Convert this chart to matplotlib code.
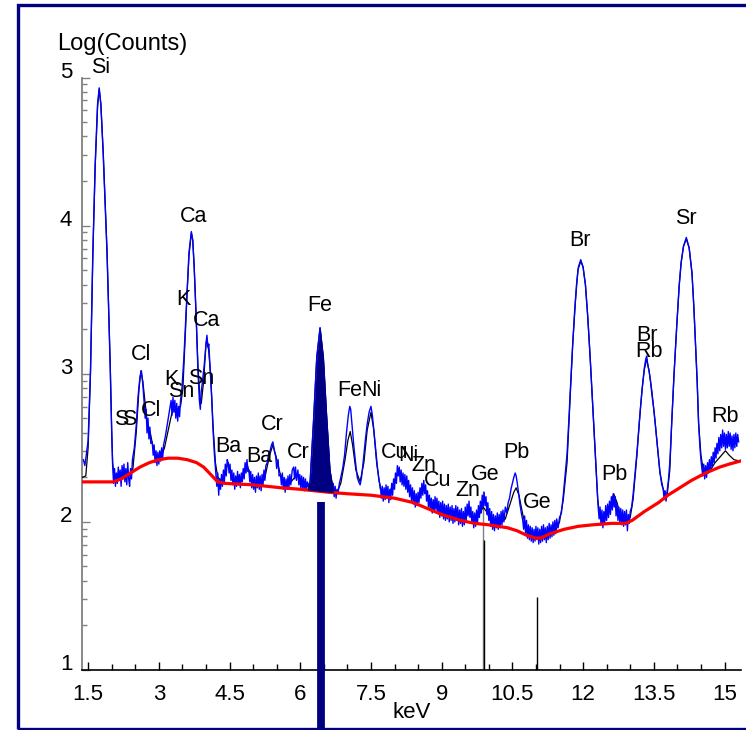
import numpy as np
import matplotlib
matplotlib.use("Agg")
import matplotlib.pyplot as plt
from matplotlib.ticker import MultipleLocator, LogLocator, FuncFormatter, NullFormatter
from matplotlib.patches import Rectangle

plt.rcParams['font.family'] = ['Liberation Sans', 'DejaVu Sans']

# ---------------- data (log10 counts vs keV) ----------------
bg_kev = [1.37, 2.03, 2.2, 2.4, 2.6, 2.8, 3.0, 3.2, 3.4, 3.6, 3.8, 3.95, 4.1, 4.25, 4.4, 4.7,
          5.0, 5.3, 5.6, 6.0, 6.6, 7.0, 7.5, 8.0, 8.4, 8.7, 9.0, 9.2, 9.4, 9.7, 10.0, 10.4,
          10.6, 10.8, 11.0, 11.1, 11.3, 11.6, 11.9, 12.2, 12.6, 12.9, 13.04, 13.3, 13.6, 13.8,
          14.0, 14.3, 14.6, 14.9, 15.1, 15.33]
bg_log = [2.27, 2.27, 2.29, 2.33, 2.37, 2.40, 2.42, 2.43, 2.43, 2.42, 2.40, 2.37, 2.32, 2.27, 2.26, 2.255,
          2.25, 2.24, 2.23, 2.22, 2.20, 2.19, 2.18, 2.16, 2.13, 2.09, 2.05, 2.03, 2.01, 1.99, 1.98, 1.96,
          1.94, 1.91, 1.89, 1.89, 1.92, 1.95, 1.97, 1.98, 1.99, 1.99, 2.01, 2.07, 2.13, 2.18,
          2.22, 2.28, 2.33, 2.37, 2.39, 2.41]

fit_kev = [1.37, 1.45, 1.50, 1.55, 1.60, 1.65, 1.70, 1.735, 1.77, 1.82, 1.86, 1.90, 1.94, 1.97, 2.00, 2.02,
           2.05, 2.15, 2.25, 2.31, 2.36, 2.45, 2.52, 2.58, 2.62, 2.66, 2.71, 2.76, 2.82, 2.88, 2.95, 3.03,
           3.12, 3.20, 3.28, 3.33, 3.40, 3.46, 3.51, 3.56, 3.60, 3.64, 3.69, 3.72, 3.75, 3.79, 3.83, 3.87,
           3.90, 3.95, 4.00, 4.02, 4.06, 4.10, 4.15, 4.20, 4.25, 4.33, 4.40, 4.47, 4.55, 4.65, 4.75, 4.83,
           4.88, 4.95, 5.05, 5.15, 5.25, 5.35, 5.42, 5.48, 5.57, 5.66, 5.78, 5.88, 5.95, 6.05, 6.15, 6.21,
           6.28, 6.35, 6.42, 6.49, 6.56, 6.63, 6.70, 6.78, 6.86, 6.95, 7.01, 7.06, 7.11, 7.18, 7.27, 7.35,
           7.42, 7.50, 7.56, 7.62, 7.70, 7.80, 7.90, 8.00, 8.08, 8.16, 8.26, 8.35, 8.47, 8.55, 8.63, 8.70,
           8.78, 8.90, 9.00, 9.15, 9.30, 9.45, 9.57, 9.65, 9.75, 9.88, 9.95, 10.05, 10.20, 10.35, 10.45, 10.53,
           10.58, 10.64, 10.72, 10.80, 10.90, 11.00, 11.10, 11.20, 11.30, 11.40, 11.50, 11.58, 11.66, 11.72, 11.78, 11.84,
           11.89, 11.95, 12.00, 12.05, 12.10, 12.15, 12.21, 12.26, 12.31, 12.36, 12.45, 12.55, 12.65, 12.72, 12.80, 12.90,
           13.00, 13.06, 13.14, 13.20, 13.25, 13.30, 13.35, 13.40, 13.46, 13.53, 13.58, 13.63, 13.70, 13.78, 13.84, 13.88,
           13.93, 13.99, 14.04, 14.08, 14.13, 14.19, 14.25, 14.31, 14.35, 14.38, 14.42, 14.45, 14.50, 14.55, 14.63, 14.72,
           14.80, 14.91, 15.02, 15.10, 15.20, 15.33]
fit_log = [2.30, 2.31, 2.50, 3.00, 3.80, 4.40, 4.80, 4.92, 4.82, 4.50, 4.17, 3.84, 3.40, 3.05, 2.62, 2.40,
           2.31, 2.30, 2.31, 2.33, 2.31, 2.36, 2.60, 2.90, 3.02, 2.95, 2.80, 2.65, 2.60, 2.50, 2.44, 2.42,
           2.50, 2.62, 2.74, 2.78, 2.76, 2.78, 2.90, 3.25, 3.55, 3.80, 3.95, 3.90, 3.72, 3.40, 3.05, 2.85,
           2.80, 2.95, 3.20, 3.24, 3.15, 2.98, 2.65, 2.40, 2.30, 2.28, 2.33, 2.40, 2.30, 2.27, 2.30, 2.36,
           2.38, 2.30, 2.26, 2.25, 2.30, 2.45, 2.52, 2.45, 2.33, 2.25, 2.26, 2.30, 2.32, 2.27, 2.24, 2.27,
           2.67, 3.11, 3.31, 3.11, 2.71, 2.35, 2.22, 2.20, 2.26, 2.42, 2.55, 2.61, 2.52, 2.35, 2.27, 2.40,
           2.62, 2.74, 2.62, 2.40, 2.22, 2.19, 2.20, 2.28, 2.34, 2.30, 2.28, 2.20, 2.15, 2.18, 2.24, 2.18,
           2.12, 2.10, 2.08, 2.05, 2.04, 2.02, 2.06, 2.03, 2.02, 2.10, 2.07, 2.00, 1.98, 2.02, 2.12, 2.20,
           2.23, 2.18, 2.05, 1.95, 1.91, 1.90, 1.89, 1.90, 1.91, 1.93, 2.00, 2.15, 2.40, 2.80, 3.20, 3.50,
           3.70, 3.76, 3.72, 3.60, 3.38, 3.11, 2.75, 2.44, 2.15, 2.03, 2.01, 2.08, 2.19, 2.13, 2.03, 2.00,
           2.03, 2.15, 2.44, 2.70, 2.89, 3.03, 3.10, 3.02, 2.88, 2.67, 2.50, 2.33, 2.22, 2.17, 2.35, 2.67,
           3.00, 3.34, 3.60, 3.75, 3.86, 3.91, 3.85, 3.68, 3.45, 3.23, 2.95, 2.67, 2.45, 2.35, 2.33, 2.36,
           2.40, 2.44, 2.48, 2.45, 2.42, 2.41]

spec_kev = [1.40, 1.43, 1.46, 1.50, 1.55, 1.60, 1.65, 1.70, 1.735, 1.77, 1.82, 1.86, 1.90, 1.94, 1.97, 2.00, 2.02,
            2.04, 2.06, 2.08, 2.10, 2.12, 2.14, 2.16, 2.18, 2.20, 2.22, 2.24, 2.26, 2.28, 2.30, 2.32, 2.34, 2.36, 2.38, 2.40, 2.42, 2.44,
            2.48, 2.52, 2.56, 2.60, 2.63, 2.66, 2.69, 2.71, 2.73, 2.75, 2.77, 2.79, 2.81, 2.83, 2.86, 2.88, 2.90, 2.92, 2.94, 2.96, 2.98, 3.00, 3.02, 3.04, 3.06, 3.08, 3.10,
            3.14, 3.18, 3.22, 3.26, 3.28, 3.30, 3.32, 3.34, 3.36, 3.38, 3.40, 3.42, 3.44, 3.46, 3.49, 3.53, 3.56, 3.60, 3.64, 3.69, 3.72, 3.75, 3.79, 3.83, 3.86, 3.88,
            3.90, 3.93, 3.96, 3.98, 4.00, 4.02, 4.04, 4.06, 4.09, 4.12, 4.15, 4.18, 4.21, 4.23, 4.25, 4.27, 4.29, 4.31, 4.33, 4.35, 4.37, 4.39, 4.41, 4.43, 4.45, 4.47,
            4.49, 4.51, 4.53, 4.55, 4.57, 4.59, 4.61, 4.63, 4.65, 4.67, 4.69, 4.71, 4.73, 4.75, 4.77, 4.79, 4.81, 4.83, 4.85, 4.87, 4.89, 4.91, 4.93, 4.95, 4.97, 4.99,
            5.01, 5.03, 5.05, 5.07, 5.09, 5.11, 5.13, 5.15, 5.17, 5.19, 5.21, 5.23, 5.25, 5.27, 5.30, 5.33, 5.36, 5.39, 5.42, 5.45, 5.48, 5.50, 5.53, 5.55, 5.58, 5.60,
            5.62, 5.64, 5.66, 5.68, 5.70, 5.72, 5.74, 5.76, 5.78, 5.80, 5.83, 5.86, 5.88, 5.90, 5.92, 5.95, 5.97, 5.99, 6.01, 6.03, 6.05, 6.07, 6.09, 6.11, 6.13, 6.15,
            6.18, 6.21, 6.28, 6.35, 6.42, 6.49, 6.56, 6.63, 6.66, 6.68, 6.70, 6.72, 6.74, 6.76, 6.78, 6.80, 6.83, 6.86, 6.90, 6.94, 6.98, 7.02, 7.05, 7.07, 7.10, 7.14,
            7.18, 7.21, 7.24, 7.27, 7.30, 7.34, 7.38, 7.42, 7.46, 7.50, 7.53, 7.56, 7.60, 7.64, 7.67, 7.70, 7.72, 7.74, 7.76, 7.78, 7.80, 7.82, 7.84, 7.86, 7.88, 7.90,
            7.92, 7.94, 7.96, 7.98, 8.00, 8.02, 8.04, 8.06, 8.08, 8.10, 8.12, 8.14, 8.16, 8.18, 8.20, 8.22, 8.24, 8.26, 8.28, 8.30, 8.32, 8.34, 8.36, 8.38, 8.40, 8.42,
            8.44, 8.46, 8.48, 8.50, 8.52, 8.54, 8.56, 8.58, 8.60, 8.62, 8.64, 8.66, 8.68, 8.70, 8.72, 8.74, 8.76, 8.78, 8.80, 8.82, 8.84, 8.86, 8.88, 8.90, 8.92, 8.94,
            8.96, 8.98, 9.00, 9.02, 9.04, 9.06, 9.08, 9.10, 9.12, 9.14, 9.16, 9.18, 9.20, 9.22, 9.24, 9.26, 9.28, 9.30, 9.32, 9.34, 9.36, 9.38, 9.40, 9.42, 9.44, 9.46,
            9.48, 9.50, 9.52, 9.54, 9.56, 9.58, 9.60, 9.62, 9.64, 9.66, 9.68, 9.70, 9.72, 9.74, 9.76, 9.78, 9.80, 9.82, 9.84, 9.86, 9.88, 9.90, 9.92, 9.94, 9.96, 9.98,
            10.00, 10.02, 10.04, 10.06, 10.08, 10.10, 10.12, 10.14, 10.16, 10.18, 10.20, 10.22, 10.24, 10.26, 10.28, 10.30, 10.32, 10.35, 10.38, 10.41, 10.44, 10.47,
            10.50, 10.53, 10.56, 10.58, 10.60, 10.63, 10.66, 10.69, 10.72, 10.74, 10.76, 10.78, 10.80, 10.82, 10.84, 10.86, 10.88, 10.90, 10.92, 10.94, 10.96, 10.98,
            11.00, 11.02, 11.04, 11.06, 11.08, 11.10, 11.12, 11.14, 11.16, 11.18, 11.20, 11.22, 11.24, 11.26, 11.28, 11.30, 11.32, 11.34, 11.36, 11.38, 11.40, 11.42,
            11.44, 11.47, 11.50, 11.54, 11.58, 11.62, 11.66, 11.70, 11.74, 11.78, 11.82, 11.86, 11.90, 11.95, 12.00, 12.05, 12.10, 12.15, 12.21, 12.26, 12.30, 12.32,
            12.34, 12.36, 12.38, 12.40, 12.42, 12.44, 12.46, 12.48, 12.50, 12.52, 12.54, 12.56, 12.58, 12.60, 12.62, 12.64, 12.66, 12.68, 12.70, 12.72, 12.74, 12.76,
            12.78, 12.80, 12.82, 12.84, 12.86, 12.88, 12.90, 12.92, 12.94, 12.96, 12.98, 13.00, 13.03, 13.06, 13.10, 13.14, 13.18, 13.22, 13.26, 13.30, 13.33, 13.35,
            13.37, 13.40, 13.43, 13.46, 13.50, 13.53, 13.58, 13.63, 13.67, 13.70, 13.72, 13.74, 13.76, 13.78, 13.81, 13.84, 13.88, 13.93, 13.99, 14.04, 14.08, 14.13,
            14.19, 14.25, 14.31, 14.35, 14.38, 14.42, 14.45, 14.48, 14.50, 14.52, 14.54, 14.56, 14.58, 14.60, 14.62, 14.64, 14.66, 14.68, 14.70, 14.72, 14.74, 14.76,
            14.78, 14.80, 14.82, 14.84, 14.86, 14.88, 14.90, 14.92, 14.94, 14.96, 14.98, 15.00, 15.02, 15.04, 15.06, 15.08, 15.10, 15.12, 15.14, 15.16, 15.18, 15.20,
            15.22, 15.24, 15.26, 15.28, 15.30]
spec_log = [2.42, 2.38, 2.45, 2.55, 3.02, 3.82, 4.42, 4.82, 4.93, 4.82, 4.48, 4.15, 3.82, 3.38, 3.02, 2.60, 2.38,
            2.26, 2.36, 2.24, 2.33, 2.26, 2.37, 2.28, 2.35, 2.24, 2.38, 2.29, 2.39, 2.27, 2.36, 2.25, 2.40, 2.29, 2.24, 2.36, 2.29, 2.42,
            2.50, 2.65, 2.85, 2.98, 3.02, 2.93, 2.80, 2.70, 2.76, 2.60, 2.70, 2.56, 2.64, 2.53, 2.54, 2.45, 2.52, 2.40, 2.48, 2.38, 2.47, 2.39, 2.48, 2.41, 2.50, 2.42, 2.52,
            2.58, 2.66, 2.74, 2.82, 2.72, 2.84, 2.74, 2.82, 2.70, 2.80, 2.68, 2.78, 2.71, 2.82, 2.90, 3.10, 3.30, 3.58, 3.82, 3.96, 3.90, 3.72, 3.40, 3.02, 2.82, 2.76,
            2.88, 2.96, 3.05, 3.12, 3.20, 3.26, 3.18, 3.20, 3.02, 2.85, 2.62, 2.45, 2.32, 2.24, 2.33, 2.18, 2.29, 2.22, 2.32, 2.24, 2.35, 2.27, 2.39, 2.31, 2.42, 2.40,
            2.33, 2.39, 2.28, 2.35, 2.25, 2.33, 2.22, 2.31, 2.24, 2.34, 2.25, 2.32, 2.23, 2.33, 2.27, 2.36, 2.29, 2.40, 2.33, 2.42, 2.34, 2.35, 2.27, 2.34, 2.23, 2.32,
            2.22, 2.30, 2.20, 2.31, 2.23, 2.33, 2.22, 2.31, 2.21, 2.32, 2.25, 2.35, 2.28, 2.38, 2.40, 2.46, 2.48, 2.52, 2.54, 2.48, 2.44, 2.36, 2.42, 2.31, 2.32, 2.25,
            2.33, 2.22, 2.30, 2.20, 2.29, 2.22, 2.31, 2.23, 2.32, 2.25, 2.35, 2.37, 2.29, 2.37, 2.28, 2.35, 2.25, 2.32, 2.23, 2.31, 2.22, 2.30, 2.21, 2.29, 2.22, 2.27,
            2.23, 2.28, 2.67, 3.11, 3.31, 3.11, 2.71, 2.35, 2.28, 2.20, 2.26, 2.17, 2.24, 2.16, 2.22, 2.19, 2.26, 2.30, 2.36, 2.45, 2.60, 2.72, 2.78, 2.76, 2.65, 2.50,
            2.38, 2.30, 2.27, 2.25, 2.30, 2.42, 2.55, 2.66, 2.74, 2.78, 2.72, 2.62, 2.48, 2.36, 2.28, 2.24, 2.16, 2.24, 2.14, 2.23, 2.15, 2.25, 2.16, 2.24, 2.13, 2.22,
            2.15, 2.26, 2.18, 2.29, 2.22, 2.33, 2.26, 2.38, 2.31, 2.37, 2.27, 2.35, 2.25, 2.33, 2.24, 2.32, 2.22, 2.31, 2.20, 2.28, 2.17, 2.25, 2.14, 2.23, 2.12, 2.21,
            2.10, 2.19, 2.11, 2.20, 2.13, 2.23, 2.16, 2.26, 2.18, 2.28, 2.19, 2.25, 2.14, 2.21, 2.10, 2.18, 2.08, 2.16, 2.06, 2.15, 2.07, 2.17, 2.08, 2.16, 2.06, 2.14,
            2.03, 2.13, 2.04, 2.14, 2.02, 2.12, 2.01, 2.11, 2.02, 2.12, 2.00, 2.10, 2.01, 2.11, 1.99, 2.09, 2.00, 2.11, 2.01, 2.10, 1.98, 2.08, 1.99, 2.09, 1.97, 2.07,
            1.98, 2.10, 2.01, 2.12, 2.04, 2.14, 2.03, 2.10, 1.99, 2.07, 1.96, 2.06, 1.97, 2.08, 1.99, 2.11, 2.03, 2.14, 2.06, 2.18, 2.10, 2.20, 2.11, 2.17, 2.05, 2.13,
            2.01, 2.09, 1.97, 2.07, 1.95, 2.05, 1.94, 2.04, 1.96, 2.06, 1.95, 2.05, 1.96, 2.07, 1.98, 2.08, 2.00, 2.10, 2.06, 2.13, 2.16, 2.22,
            2.26, 2.30, 2.33, 2.31, 2.27, 2.20, 2.12, 2.06, 2.01, 1.95, 2.04, 1.92, 2.01, 1.89, 1.98, 1.88, 1.97, 1.87, 1.96, 1.86, 1.95, 1.87,
            1.97, 1.88, 1.96, 1.85, 1.95, 1.86, 1.97, 1.87, 1.98, 1.88, 1.96, 1.86, 1.97, 1.88, 1.99, 1.89, 1.98, 1.90, 2.00, 1.91, 2.01, 1.92,
            2.02, 1.96, 2.03, 2.06, 2.18, 2.32, 2.46, 2.70, 2.96, 3.20, 3.42, 3.60, 3.72, 3.77, 3.72, 3.60, 3.38, 3.11, 2.75, 2.44, 2.20, 2.10,
            2.02, 2.10, 1.98, 2.08, 1.96, 2.07, 1.99, 2.11, 2.01, 2.12, 2.03, 2.14, 2.05, 2.17, 2.08, 2.19, 2.10, 2.17, 2.04, 2.13, 2.01, 2.10,
            1.99, 2.09, 1.98, 2.08, 1.97, 2.07, 1.98, 2.08, 1.94, 2.05, 1.99, 2.07, 2.10, 2.18, 2.32, 2.46, 2.62, 2.78, 2.92, 3.04, 3.10, 3.12,
            3.06, 3.02, 2.95, 2.86, 2.76, 2.66, 2.50, 2.34, 2.25, 2.22, 2.15, 2.21, 2.14, 2.20, 2.28, 2.40, 2.67, 3.00, 3.34, 3.60, 3.75, 3.86,
            3.92, 3.85, 3.68, 3.45, 3.23, 2.95, 2.67, 2.50, 2.42, 2.36, 2.31, 2.39, 2.29, 2.38, 2.30, 2.40, 2.33, 2.42, 2.35, 2.44, 2.37, 2.47,
            2.40, 2.50, 2.43, 2.53, 2.46, 2.57, 2.48, 2.59, 2.50, 2.62, 2.51, 2.60, 2.49, 2.59, 2.50, 2.61, 2.51, 2.60, 2.49, 2.58, 2.48, 2.59,
            2.50, 2.60, 2.51, 2.59, 2.54]

peak_labels = ["Si", "Ca", "K", "Ca", "Cl", "K", "Sn", "Sn", "Cl", "S", "S", "Ba", "Ba", "Cr", "Cr",
               "Fe", "Fe", "Ni", "Cu", "Ni", "Zn", "Cu", "Zn", "Ge", "Pb", "Ge", "Br", "Pb", "Br", "Rb",
               "Sr", "Rb"]
label_kev = [1.755, 3.73, 3.52, 4.02, 2.62, 3.26, 3.47, 3.90, 2.84, 2.20, 2.37, 4.47, 5.13, 5.40, 5.96,
             6.42, 7.06, 7.50, 8.01, 8.29, 8.63, 8.91, 9.56, 9.92, 10.58, 11.03, 11.94, 12.66, 13.36, 13.40,
             14.19, 15.02]
label_log = [5.07, 4.06, 3.50, 3.36, 3.13, 2.96, 2.88, 2.97, 2.755, 2.69, 2.69, 2.51, 2.44, 2.66, 2.47,
             3.46, 2.89, 2.89, 2.47, 2.45, 2.38, 2.28, 2.215, 2.32, 2.47, 2.13, 3.90, 2.32, 3.26, 3.15,
             4.05, 2.71]

x_ticks = [1.5, 3, 4.5, 6, 7.5, 9, 10.5, 12, 13.5, 15]

# element marker (selected element) and KLM lines
fe_marker_kev = 6.43
fe_marker_top = 2.135
ge_line_kev = [9.87, 9.90, 11.02]
ge_line_top = [2.21, 1.88, 1.49]

# ---------------- figure ----------------
W, H = 746, 730
fig = plt.figure(figsize=(W / 100, H / 100), dpi=100)
ax = fig.add_axes([82 / W, (H - 670) / H, (741 - 82) / W, (670 - 77.5) / H])

p = lambda v: 10.0 ** np.asarray(v)

ax.plot(fit_kev, p(fit_log), color='black', lw=0.9, zorder=3)
ax.plot(spec_kev, p(spec_log), color='#0000FF', lw=1.0, zorder=4)
ax.plot(bg_kev, p(bg_log), color='#FF0000', lw=2.3, zorder=5)

# filled Fe peak between background and fit
fk = np.array(fit_kev)
sel = (fk >= 6.15) & (fk <= 6.72)
fx = fk[sel]
fy = np.array(fit_log)[sel]
by = np.interp(fx, bg_kev, bg_log)
ax.fill_between(fx, p(by), p(fy), color='#000080', lw=0, zorder=6)

# markers
ax.vlines([fe_marker_kev], p(0.59), p(fe_marker_top), color='#000080', lw=5.6, zorder=7, clip_on=False)
ax.vlines(ge_line_kev[0], p(1.0), p(ge_line_top[0]), color='#808080', lw=1.0, zorder=2)
ax.vlines(ge_line_kev[1], p(1.0), p(ge_line_top[1]), color='black', lw=1.0, zorder=2)
ax.vlines(ge_line_kev[2], p(1.0), p(ge_line_top[2]), color='black', lw=1.0, zorder=2)

for lab, xk, yl in zip(peak_labels, label_kev, label_log):
    ax.text(xk, p(yl), lab, fontsize=15.5, ha='center', va='center', color='black',
            zorder=8, clip_on=False)

ax.set_yscale('log')
ax.set_ylim(10, 1e5)
ax.set_xlim(1.37, 15.35)

ax.xaxis.set_minor_locator(MultipleLocator(0.5))
ax.set_xticks(x_ticks)
ax.set_xticklabels([f"{v:g}" for v in x_ticks])
ax.yaxis.set_major_locator(LogLocator(base=10, numticks=10))
ax.yaxis.set_minor_locator(LogLocator(base=10, subs=np.arange(2, 10), numticks=20))
ax.yaxis.set_major_formatter(FuncFormatter(lambda v, pos: f"{np.log10(v):g}"))
ax.yaxis.set_minor_formatter(NullFormatter())

ax.tick_params(axis='x', which='major', direction='in', length=6, width=1, labelsize=16, pad=10)
ax.tick_params(axis='x', which='minor', direction='in', length=4, width=1)
ax.tick_params(axis='y', which='major', direction='in', length=6, width=1, labelsize=16, pad=7,
               color='#808080')
ax.tick_params(axis='y', which='minor', direction='in', length=3.5, width=1, color='#808080')
for t in ax.get_yticklabels():
    t.set_va('baseline')

for s in ['top', 'right']:
    ax.spines[s].set_visible(False)
ax.spines['left'].set_color('#808080')
ax.spines['left'].set_linewidth(1.3)
ax.spines['bottom'].set_color('black')
ax.spines['bottom'].set_linewidth(1.2)
ax.patch.set_alpha(0)

fig.text(412 / W, 1 - 712 / H, "keV", fontsize=16, ha='center', va='center')
fig.text(57 / W, 1 - 44 / H, "Log(Counts)", fontsize=17, ha='left', va='center')

# outer frame
frame = Rectangle((17.5 / W, 1.0 / H), 1.0, (729 - 5.3) / H, transform=fig.transFigure,
                  fill=False, edgecolor='#000080', lw=2.4, clip_on=False)
fig.patches.append(frame)

fig.savefig("out.png", dpi=100)
